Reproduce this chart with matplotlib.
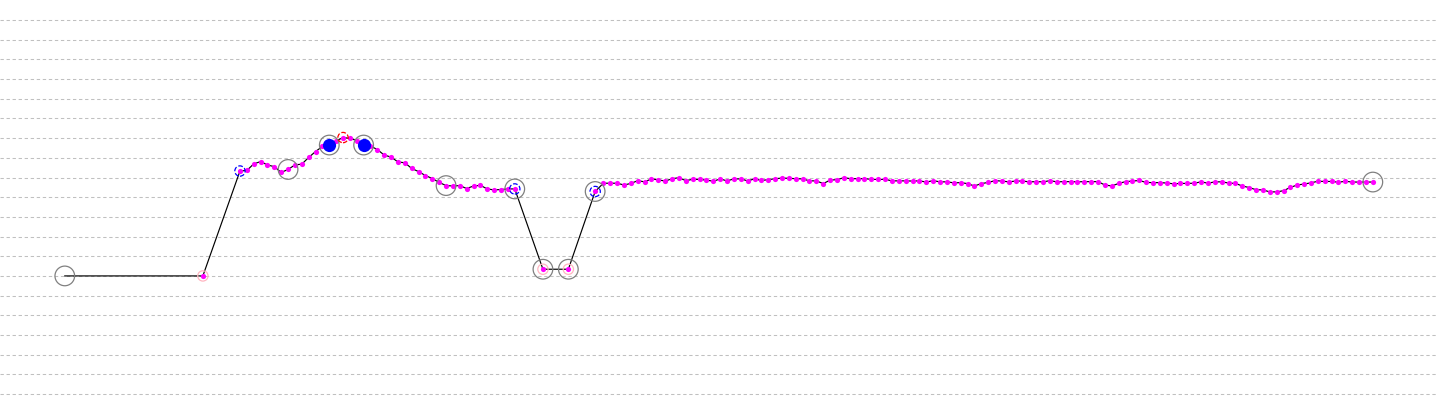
import numpy as np
import matplotlib
matplotlib.use("Agg")
import matplotlib.pyplot as plt

# x in trading-step units, y in grid units (one dashed line per unit)
lead_x = [-25.5, -5.4]
lead_y = [6.00, 6.00]

# first run of daily points (x = 0 .. 40)
run_a = [11.33, 11.36, 11.69, 11.81, 11.64, 11.55, 11.26, 11.41, 11.64, 11.68,
         12.02, 12.32, 12.58, 12.65, 12.86, 13.03, 12.99, 12.88, 12.65, 12.60,
         12.42, 12.14, 12.04, 11.79, 11.75, 11.46, 11.30, 11.10, 10.95, 10.75,
         10.59, 10.57, 10.59, 10.44, 10.57, 10.60, 10.42, 10.37, 10.39, 10.42,
         10.42]

dip_x = [44.1, 47.8, 51.7]
dip_y = [6.34, 6.34, 10.29]

# second run of daily points
run_b_start = 52.9
run_b = [10.71, 10.71, 10.71, 10.62, 10.70, 10.84, 10.78, 10.93, 10.88, 10.82,
         10.94, 10.99, 10.84, 10.91, 10.90, 10.87, 10.81, 10.93, 10.83, 10.93,
         10.93, 10.83, 10.93, 10.85, 10.89, 10.94, 10.97, 10.96, 10.94, 10.93,
         10.83, 10.83, 10.69, 10.87, 10.89, 10.99, 10.94, 10.94, 10.94, 10.91,
         10.90, 10.91, 10.83, 10.83, 10.83, 10.82, 10.83, 10.77, 10.84, 10.78,
         10.78, 10.73, 10.74, 10.69, 10.57, 10.69, 10.75, 10.84, 10.82, 10.78,
         10.82, 10.82, 10.78, 10.79, 10.78, 10.84, 10.78, 10.79, 10.79, 10.78,
         10.79, 10.79, 10.79, 10.62, 10.57, 10.70, 10.79, 10.82, 10.85, 10.75,
         10.74, 10.74, 10.72, 10.68, 10.70, 10.70, 10.71, 10.78, 10.71, 10.78,
         10.78, 10.72, 10.70, 10.57, 10.49, 10.38, 10.37, 10.27, 10.27, 10.33,
         10.50, 10.62, 10.67, 10.73, 10.81, 10.80, 10.80, 10.76, 10.81, 10.77,
         10.77, 10.77, 10.77]

# indices into the full series for the highlighted points
gray_idx = [0, 9, 15, 20, 32, 42, 43, 44, 45, -1]
blue_open_idx = [2, 42, 45]
blue_fill_idx = [15, 20]
red_idx = [17]
pink_idx = [1, 43, 44]

x = np.concatenate([lead_x, np.arange(len(run_a)), dip_x,
                    run_b_start + np.arange(len(run_b))])
y = np.concatenate([lead_y, run_a, dip_y, run_b])

fig = plt.figure(figsize=(14.37, 4.13), dpi=100)
ax = fig.add_axes([0, 0, 1, 1])

ax.plot(x, y, color="black", lw=0.85, zorder=2)
ax.scatter(x[1:], y[1:], s=14, color="#ff00ff", zorder=3, linewidths=0)

ax.scatter(x[gray_idx], y[gray_idx], s=200, facecolors="none",
           edgecolors="#808080", linewidths=0.9, zorder=4)
ax.scatter(x[blue_open_idx], y[blue_open_idx], s=55, facecolors="none",
           edgecolors="blue", linewidths=0.9, linestyles="--", zorder=4)
ax.scatter(x[blue_fill_idx], y[blue_fill_idx], s=90, color="blue",
           linewidths=0, zorder=5)
ax.scatter(x[red_idx], y[red_idx], s=55, facecolors="none",
           edgecolors="red", linewidths=0.9, linestyles="--", zorder=4)
ax.scatter(x[pink_idx], y[pink_idx], s=55, facecolors="none",
           edgecolors="#ffb6c1", linewidths=0.9, zorder=4)

ax.set_xlim(-34.93, 174.24)
ax.set_ylim(-0.965, 20.02)
ax.set_yticks(np.arange(20))
ax.yaxis.grid(True, color="#c0c0c0", lw=0.75, linestyle=(0, (3.2, 2.6)))
ax.set_axisbelow(True)
ax.tick_params(left=False, bottom=False, labelleft=False, labelbottom=False)
for s in ax.spines.values():
    s.set_visible(False)

fig.savefig("out.png", dpi=100)
